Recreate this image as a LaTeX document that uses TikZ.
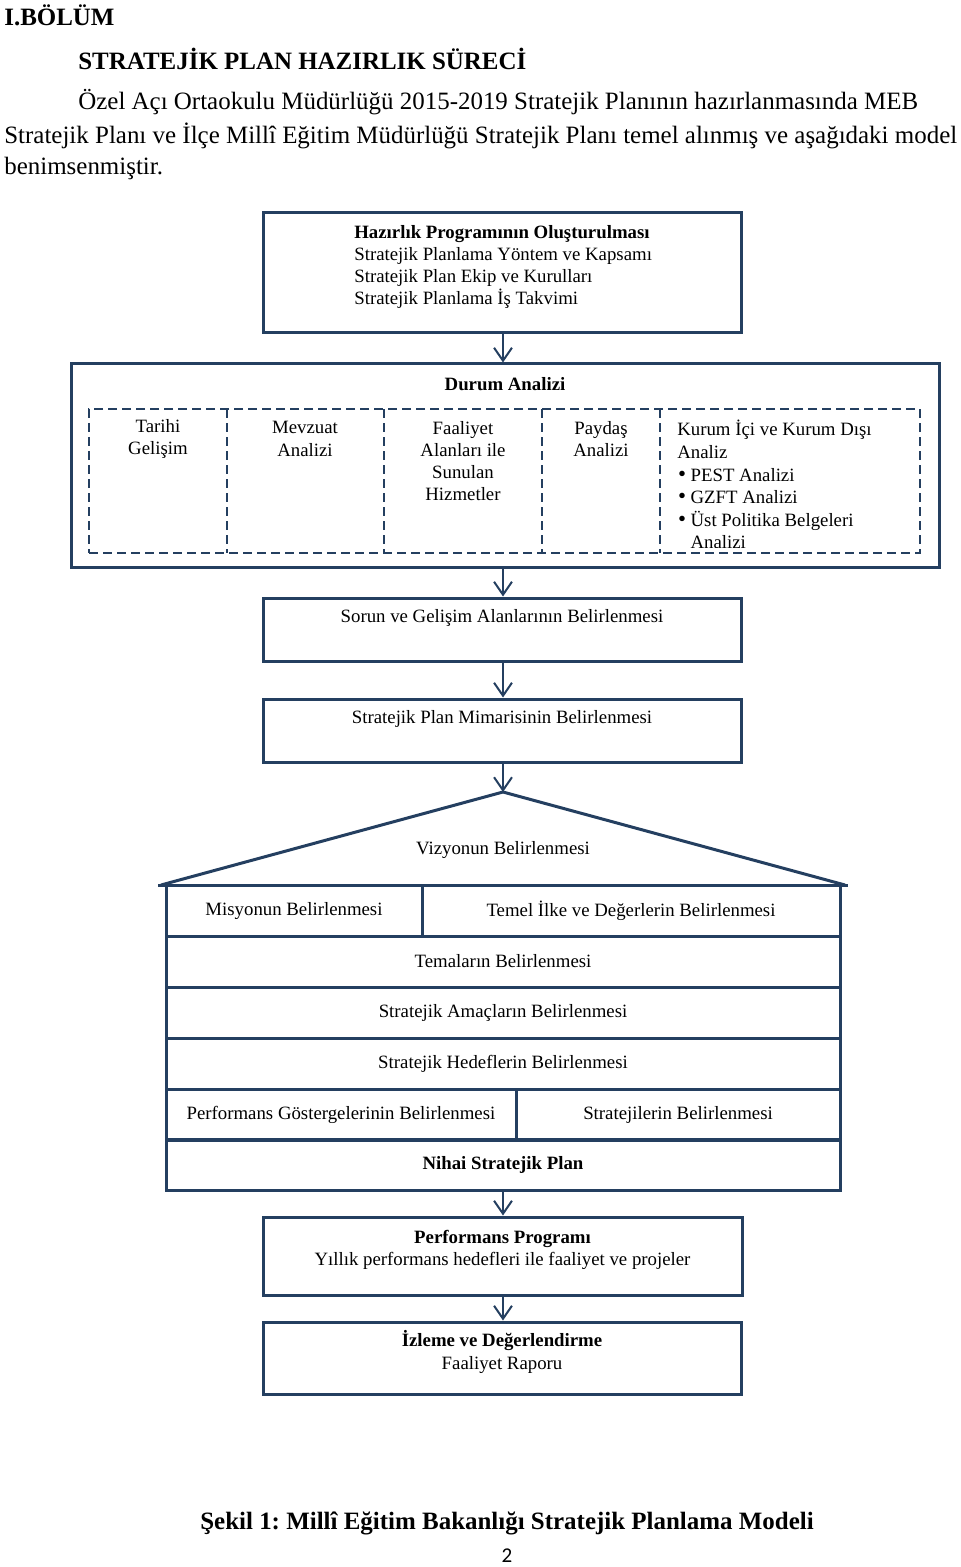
\documentclass[tikz,border=0pt]{standalone}
\usepackage{fontspec}
\setmainfont{Liberation Serif}
\newfontfamily\pagefont{Carlito}
\usepackage{tikz}
\usetikzlibrary{positioning}
\usetikzlibrary{arrows.meta}
\definecolor{navy}{RGB}{36,63,96}
\newlength\px
\setlength\px{0.02cm}
\newcommand\madde{\hspace*{0.5pt}{\fontsize{13}{12}\selectfont•}\hspace{2.5pt}}
\tikzset{%
  box/.style = {rectangle,draw=navy,line width=3\px,inner sep=0pt},
  row/.style = {rectangle,draw=navy,line width=3\px,inner sep=0pt,
        minimum height=51\px,font=\fontsize{10.7}{12.6}\selectfont},
  dbox/.style = {rectangle,draw=navy,line width=2\px,
        dash pattern=on 9\px off 5\px},
  dline/.style = {draw=navy,line width=2\px,dash pattern=on 9\px off 5\px},
  flow/.style = {-{Straight Barb[length=7.4pt,width=10.2pt]},draw=navy,
        line width=2\px},
  txt/.style = {align=center,inner sep=0pt,font=\fontsize{10.7}{12.6}\selectfont},
  body/.style = {anchor=west,inner sep=0pt,font=\fontsize{14.2}{17}\selectfont},
  head/.style = {anchor=west,inner sep=0pt,font=\bfseries\fontsize{14.2}{17}\selectfont}
}
\begin{document}
\frenchspacing
\begin{tikzpicture}[x=0.02cm,y=-0.02cm]
    \useasboundingbox (0,0) rectangle (960,1567);
    \node[head] (bolum) at (4,15) {I.BÖLÜM};
    \node[head] (baslik) at (78,59) {STRATEJİK PLAN HAZIRLIK SÜRECİ};
    \node[body] (par1) at (78,102) {Özel Açı Ortaokulu Müdürlüğü 2015-2019 Stratejik Planının hazırlanmasında MEB};
    \node[body] (par2) at (4,136) {Stratejik Planı ve İlçe Millî Eğitim Müdürlüğü Stratejik Planı temel alınmış ve aşağıdaki model};
    \node[body] (par3) at (4,169) {benimsenmiştir.};

    \node[box,minimum width=478\px,minimum height=120\px] (hazir) at (502,273) {};
    \node[txt,align=left,anchor=north west] (hazirt) at (354,225)
        {\textbf{Hazırlık Programının Oluşturulması}\\
         Stratejik Planlama Yöntem ve Kapsamı\\
         Stratejik Plan Ekip ve Kurulları\\
         Stratejik Planlama İş Takvimi};

    \node[box,minimum width=868\px,minimum height=203\px] (durum) at (505,465.5) {};
    \node[txt,font=\bfseries\fontsize{10.7}{12.6}\selectfont] (durumt) at (505,384) {Durum Analizi};
    \node[dbox,minimum width=831\px,minimum height=144\px] (dash) at (504.5,481) {};
    \foreach \x in {227,384,542,660}
        \draw[dline] (\x,409) -- (\x,553);
    \node[txt] (tarihi) at (158,439) {Tarihi\\Gelişim};
    \node[txt] (mevzuat) at (305,439) {Mevzuat\\Analizi};
    \node[txt] (faaliyet) at (463,461) {Faaliyet\\Alanları ile\\Sunulan\\Hizmetler};
    \node[txt] (paydas) at (601,439) {Paydaş\\Analizi};
    \begin{scope}
        \clip (662,411) rectangle (918,547);
        \node[txt,align=left,anchor=north west,font=\fontsize{10.7}{12.85}\selectfont] (kurum) at (677,420)
            {Kurum İçi ve Kurum Dışı\\
             Analiz\\
             \madde PEST Analizi\\
             \madde GZFT Analizi\\
             \madde Üst Politika Belgeleri\\
             \hphantom{\madde}Analizi};
    \end{scope}

    \node[box,minimum width=478\px,minimum height=63\px] (sorun) at (502,629.5) {};
    \node[txt] (sorunt) at (502,618) {Sorun ve Gelişim Alanlarının Belirlenmesi};
    \node[box,minimum width=478\px,minimum height=63\px] (mimari) at (502,730.5) {};
    \node[txt] (mimarit) at (502,719) {Stratejik Plan Mimarisinin Belirlenmesi};

    \coordinate (tepe) at (503,792);
    \coordinate (catisol) at (161,885);
    \coordinate (catisag) at (845,885);
    \draw[navy,line width=3\px,line join=round] (catisol) -- (tepe) -- (catisag);
    \draw[navy,line width=3\px] (catisol) ++(-3,0) -- ([xshift=3\px]catisag);
    \node[txt] (vizyon) at (503,850) {Vizyonun Belirlenmesi};

    \node[row,minimum width=256\px] (misyon) at (294,910.5) {Misyonun Belirlenmesi};
    \node[row,minimum width=418\px] (temel) at (631,910.5) {Temel İlke ve Değerlerin Belirlenmesi};
    \node[row,minimum width=674\px] (tema) at (503,961.5) {Temaların Belirlenmesi};
    \node[row,minimum width=674\px] (amac) at (503,1012.5) {Stratejik Amaçların Belirlenmesi};
    \node[row,minimum width=674\px] (hedef) at (503,1063.5) {Stratejik Hedeflerin Belirlenmesi};
    \node[row,minimum width=350\px] (gosterge) at (341,1114.5) {Performans Göstergelerinin Belirlenmesi};
    \node[row,minimum width=324\px] (strateji) at (678,1114.5) {Stratejilerin Belirlenmesi};
    \node[row,minimum width=674\px,font=\bfseries\fontsize{10.7}{12.6}\selectfont] (nihai) at (503,1165) {Nihai Stratejik Plan};

    \node[box,minimum width=479\px,minimum height=78\px] (program) at (502.5,1256) {};
    \node[txt] (programt) at (502.5,1249.5)
        {\textbf{Performans Programı}\\Yıllık performans hedefleri ile faaliyet ve projeler};
    \node[box,minimum width=478\px,minimum height=72\px] (izleme) at (502,1358) {};
    \node[txt] (izlemet) at (502,1352)
        {\textbf{İzleme ve Değerlendirme}\\Faaliyet Raporu};

    \draw[flow] (hazir.south -| tepe) -- (tepe |- durum.north);
    \draw[flow] (durum.south -| tepe) -- (tepe |- sorun.north);
    \draw[flow] (sorun.south -| tepe) -- (tepe |- mimari.north);
    \draw[flow] (mimari.south -| tepe) -- (tepe);
    \draw[flow] (nihai.south) -- (nihai.south |- program.north);
    \draw[flow] (program.south -| nihai.south) -- (nihai.south |- izleme.north);

    \node[txt,font=\bfseries\fontsize{14.2}{17}\selectfont] (sekil) at (507,1523)
        {Şekil 1: Millî Eğitim Bakanlığı Stratejik Planlama Modeli};
    \node[txt,font=\pagefont\fontsize{12}{14}\selectfont] (sayfa) at (507,1556) {2};
\end{tikzpicture}
\end{document}
